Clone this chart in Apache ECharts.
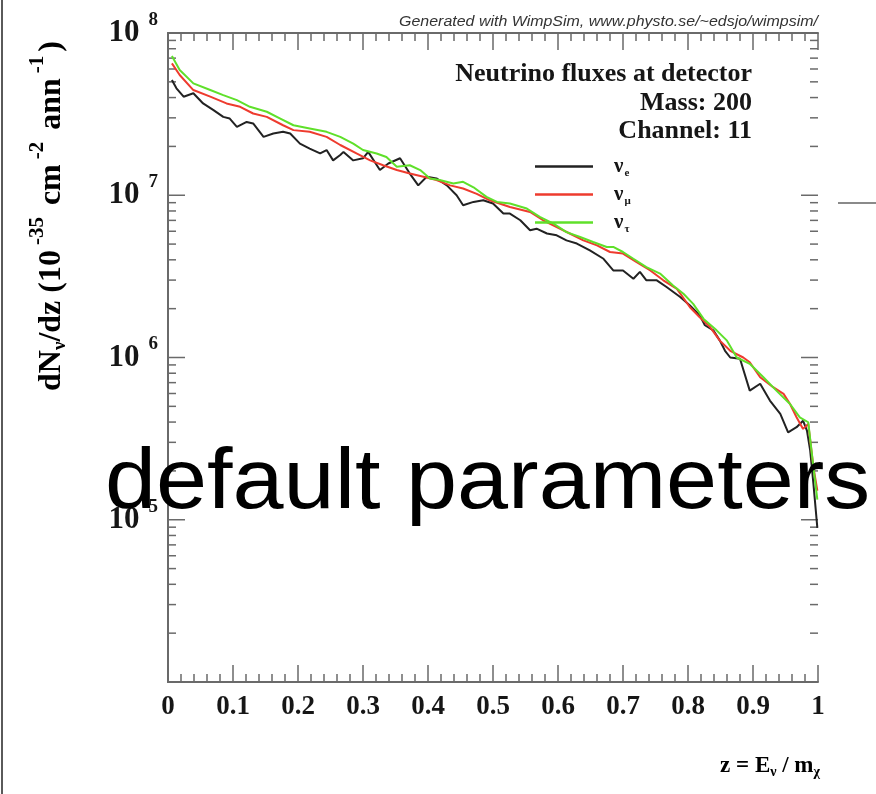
<!DOCTYPE html>
<html><head><meta charset="utf-8">
<script src="https://cdn.jsdelivr.net/npm/echarts@6/dist/echarts.min.js"></script>
<style>html,body{margin:0;padding:0;background:#fff}#c{width:876px;height:794px}</style>
</head><body><div id="c"></div>
<script>
// ---- data ----
const zE = [0.006,0.013,0.024,0.039,0.054,0.070,0.085,0.095,0.106,0.121,0.131,0.147,0.162,0.177,0.188,0.203,0.218,0.234,0.244,0.254,0.265,0.270,0.285,0.300,0.308,0.326,0.339,0.357,0.372,0.385,0.398,0.413,0.429,0.444,0.454,0.470,0.485,0.500,0.516,0.526,0.542,0.557,0.567,0.583,0.598,0.613,0.629,0.649,0.670,0.685,0.700,0.716,0.726,0.736,0.752,0.767,0.788,0.803,0.818,0.826,0.839,0.849,0.857,0.865,0.880,0.895,0.911,0.926,0.942,0.954,0.967,0.977,0.983,0.988,0.993,0.999];
const vE = [5.13e7,4.56e7,4.05e7,4.25e7,3.68e7,3.35e7,3.04e7,2.97e7,2.64e7,2.83e7,2.77e7,2.29e7,2.40e7,2.46e7,2.40e7,2.08e7,1.94e7,1.81e7,1.90e7,1.64e7,1.77e7,1.85e7,1.64e7,1.69e7,1.85e7,1.43e7,1.57e7,1.69e7,1.36e7,1.15e7,1.30e7,1.27e7,1.15e7,1.00e7,8.67e6,9.10e6,9.31e6,8.89e6,7.71e6,7.71e6,7.01e6,6.08e6,6.22e6,5.81e6,5.66e6,5.27e6,5.04e6,4.57e6,4.06e6,3.44e6,3.44e6,3.06e6,3.37e6,2.99e6,2.99e6,2.72e6,2.36e6,2.09e6,1.82e6,1.58e6,1.47e6,1.27e6,1.10e6,1.00e6,9.82e5,6.25e5,6.89e5,5.43e5,4.49e5,3.46e5,3.72e5,4.08e5,3.54e5,2.67e5,1.66e5,8.9e4];
const zM = [0.006,0.018,0.039,0.065,0.090,0.111,0.131,0.152,0.177,0.193,0.218,0.244,0.265,0.290,0.311,0.331,0.352,0.372,0.393,0.413,0.434,0.454,0.475,0.495,0.526,0.557,0.577,0.598,0.618,0.639,0.660,0.680,0.700,0.721,0.742,0.762,0.783,0.803,0.818,0.834,0.849,0.865,0.885,0.895,0.911,0.931,0.947,0.957,0.967,0.977,0.985,0.993,0.999];
const vM = [6.50e7,5.51e7,4.45e7,4.05e7,3.68e7,3.51e7,3.19e7,3.04e7,2.70e7,2.52e7,2.46e7,2.29e7,2.04e7,1.81e7,1.64e7,1.53e7,1.43e7,1.36e7,1.30e7,1.24e7,1.15e7,1.10e7,1.02e7,9.31e6,8.47e6,7.89e6,7.01e6,6.37e6,5.81e6,5.27e6,4.91e6,4.47e6,4.37e6,3.87e6,3.44e6,2.99e6,2.65e6,2.04e6,1.77e6,1.54e6,1.27e6,1.10e6,1.00e6,9.35e5,7.55e5,6.56e5,5.97e5,5.17e5,4.28e5,3.63e5,3.90e5,2.10e5,1.51e5];
const zT = [0.006,0.018,0.039,0.065,0.085,0.106,0.126,0.152,0.172,0.193,0.218,0.244,0.265,0.285,0.300,0.321,0.336,0.352,0.372,0.388,0.403,0.418,0.439,0.454,0.470,0.490,0.506,0.526,0.552,0.572,0.593,0.613,0.634,0.654,0.675,0.685,0.700,0.716,0.736,0.757,0.777,0.793,0.808,0.824,0.844,0.860,0.875,0.895,0.916,0.936,0.957,0.972,0.985,0.993,0.999];
const vT = [7.21e7,5.92e7,4.89e7,4.45e7,4.14e7,3.86e7,3.51e7,3.27e7,2.98e7,2.70e7,2.58e7,2.46e7,2.29e7,2.08e7,1.90e7,1.81e7,1.72e7,1.50e7,1.53e7,1.43e7,1.27e7,1.24e7,1.18e7,1.21e7,1.12e7,9.77e6,9.10e6,8.89e6,8.28e6,7.35e6,6.68e6,5.93e6,5.53e6,5.15e6,4.80e6,4.80e6,4.47e6,4.06e6,3.61e6,3.29e6,2.78e6,2.47e6,2.14e6,1.73e6,1.47e6,1.27e6,1.00e6,9.14e5,7.55e5,6.25e5,5.17e5,4.28e5,3.99e5,2.10e5,1.33e5];
const seriesNames = ['nu_e','nu_mu','nu_tau'];
const legendSub = {nu_e:'e', nu_mu:'\u03bc', nu_tau:'\u03c4'};
const xMin = 0, xMax = 1, xStep = 0.1;
const yMin = 1e4, yMax = 1e8;
const titleLines = ['Neutrino fluxes at detector','Mass: 200','Channel: 11'];
const creditText = 'Generated with WimpSim, www.physto.se/~edsjo/wimpsim/';
const overlayText = 'default parameters';

// ---- chart ----
const serif = '"Liberation Serif","DejaVu Serif",serif';
const ink = '#161616';
const axisColor = '#6a6a6a';
const pair = (zs, vs) => zs.map((z, i) => [z, vs[i]]);

// y ticks: decades (major) and 2..9 per decade (minor)
const yTicks = [];
for (let d = 4; d <= 8; d++) {
  yTicks.push([xMin, Math.pow(10, d), 17]);
  if (d < 8) for (let m = 2; m <= 9; m++) yTicks.push([xMin, m * Math.pow(10, d), 8]);
}

const supRich = {
  b: {fontFamily: serif, fontWeight: 'bold', fontSize: 31, color: ink},
  s: {fontFamily: serif, fontWeight: 'bold', fontSize: 19, color: ink, padding: [0, 0, 26, 9]}
};
const lineCommon = {type: 'line', symbol: 'none', smooth: false, silent: true, animation: false, z: 3};

const chart = echarts.init(document.getElementById('c'), null, {renderer: 'canvas'});
chart.setOption({
  backgroundColor: '#fff',
  animation: false,
  grid: {left: 168, top: 33, width: 650, height: 649, containLabel: false},
  xAxis: [
    {type: 'value', min: xMin, max: xMax, interval: xStep, position: 'bottom',
     axisLine: {lineStyle: {color: axisColor, width: 2}},
     axisTick: {inside: true, length: 17, lineStyle: {color: axisColor, width: 1.5}},
     minorTick: {show: true, splitNumber: 5, length: 8, lineStyle: {color: axisColor, width: 1.5}},
     splitLine: {show: false},
     axisLabel: {margin: 12, fontFamily: serif, fontWeight: 'bold', fontSize: 27, color: ink,
       formatter: v => (v === 0 || v === 1) ? String(v) : v.toFixed(1)}},
    {type: 'value', min: xMin, max: xMax, interval: xStep, position: 'top',
     axisLine: {lineStyle: {color: axisColor, width: 2}},
     axisTick: {inside: true, length: 17, lineStyle: {color: axisColor, width: 1.5}},
     minorTick: {show: true, splitNumber: 5, length: 8, lineStyle: {color: axisColor, width: 1.5}},
     splitLine: {show: false}, axisLabel: {show: false}}
  ],
  yAxis: [
    {type: 'log', logBase: 10, min: yMin, max: yMax, position: 'left',
     axisLine: {lineStyle: {color: axisColor, width: 2}},
     axisTick: {show: false}, splitLine: {show: false},
     axisLabel: {margin: 10, rich: supRich, showMinLabel: true, showMaxLabel: true,
       formatter: v => { const e = Math.round(Math.log10(v)); return e === 4 ? '' : '{b|10}{s|' + e + '}'; }}},
    {type: 'log', logBase: 10, min: yMin, max: yMax, position: 'right',
     axisLine: {lineStyle: {color: axisColor, width: 2}},
     axisTick: {show: false}, splitLine: {show: false}, axisLabel: {show: false}}
  ],
  legend: {
    data: seriesNames, orient: 'vertical', left: 535, top: 154, padding: 0,
    icon: 'rect', itemWidth: 58, itemHeight: 2.5, itemGap: 3, selectedMode: false,
    textStyle: {padding: [0, 0, 0, 16],
      rich: {
        g: {fontFamily: serif, fontWeight: 'bold', fontSize: 21, color: ink, lineHeight: 16},
        u: {fontFamily: serif, fontWeight: 'bold', fontSize: 11, color: ink, lineHeight: 16, padding: [14, 0, 0, 1]}
      }},
    formatter: n => '{g|\u03bd}{u|' + legendSub[n] + '}'
  },
  series: [
    Object.assign({name: 'nu_e', data: pair(zE, vE), lineStyle: {color: '#222222', width: 2}, itemStyle: {color: '#222222'}}, lineCommon),
    Object.assign({name: 'nu_mu', data: pair(zM, vM), lineStyle: {color: '#ee3b2e', width: 2}, itemStyle: {color: '#ee3b2e'}}, lineCommon),
    Object.assign({name: 'nu_tau', data: pair(zT, vT), lineStyle: {color: '#5fe02a', width: 2}, itemStyle: {color: '#5fe02a'}}, lineCommon),
    {type: 'custom', name: 'yticks', silent: true, clip: false, z: 2,
     data: yTicks,
     renderItem: (params, api) => {
       const v = api.value(1), len = api.value(2);
       const pL = api.coord([xMin, v]);
       const pR = api.coord([xMax, v]);
       return {type: 'group', children: [
         {type: 'line', shape: {x1: pL[0], y1: pL[1], x2: pL[0] + len, y2: pL[1]}, style: {stroke: axisColor, lineWidth: 1.5}},
         {type: 'line', shape: {x1: pR[0], y1: pR[1], x2: pR[0] - len, y2: pR[1]}, style: {stroke: axisColor, lineWidth: 1.5}}
       ]};
     }}
  ],
  graphic: [
    {type: 'rect', left: 1, top: 0, shape: {width: 2, height: 794}, style: {fill: '#5a5a5a'}, silent: true},
    {type: 'rect', left: 838, top: 202, shape: {width: 38, height: 2}, style: {fill: '#8a8a8a'}, silent: true},
    {type: 'text', x: 818, y: 22, scaleX: 1.14, silent: true,
     style: {text: creditText, font: 'italic 14px "Liberation Sans", Arial, sans-serif', fill: '#333', align: 'right', verticalAlign: 'middle'}},
    {type: 'text', x: 752, y: 74, silent: true,
     style: {text: titleLines[0], font: 'bold 26px ' + serif, fill: ink, align: 'right', verticalAlign: 'middle'}},
    {type: 'text', x: 752, y: 103, silent: true,
     style: {text: titleLines[1], font: 'bold 26px ' + serif, fill: ink, align: 'right', verticalAlign: 'middle'}},
    {type: 'text', x: 752, y: 131, silent: true,
     style: {text: titleLines[2], font: 'bold 26px ' + serif, fill: ink, align: 'right', verticalAlign: 'middle'}},
    {type: 'text', x: 52, y: 216, rotation: Math.PI / 2, silent: true,
     style: {text: '{t|dN}{d|\u03bd}{t|/dz (10}{p|-35}{t| cm}{p|-2}{t| ann}{p|-1}{t|)}',
       align: 'center', verticalAlign: 'middle',
       rich: {
         t: {fontFamily: serif, fontWeight: 'bold', fontSize: 32, color: ink},
         d: {fontFamily: serif, fontWeight: 'bold', fontSize: 19, color: ink, padding: [16, 0, 0, 0]},
         p: {fontFamily: serif, fontWeight: 'bold', fontSize: 21, color: ink, padding: [0, 4, 28, 5]}
       }}},
    {type: 'text', x: 820, y: 766, silent: true,
     style: {text: '{t|z = E}{d|\u03bd}{t| / m}{d|\u03c7}',
       align: 'right', verticalAlign: 'middle',
       rich: {
         t: {fontFamily: serif, fontWeight: 'bold', fontSize: 23, color: ink},
         d: {fontFamily: serif, fontWeight: 'bold', fontSize: 14, color: ink, padding: [12, 0, 0, 0]}
       }}},
    {type: 'text', x: 105, y: 484, scaleX: 1.067, silent: true, z: 100,
     style: {text: overlayText, font: '86px "Liberation Sans", Arial, sans-serif', fill: '#000', align: 'left', verticalAlign: 'middle'}}
  ]
});
</script></body></html>
